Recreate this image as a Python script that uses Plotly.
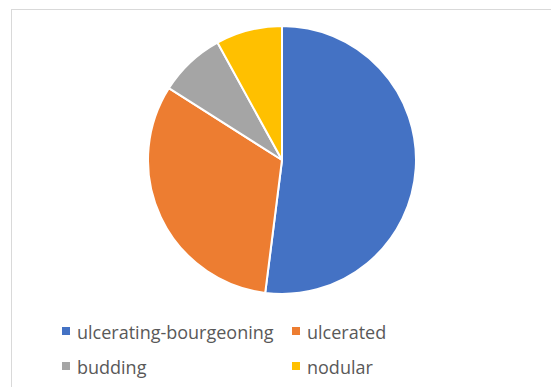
import plotly.graph_objects as go

# Tumour macroscopic aspect, number of cases
labels = ["ulcerating-bourgeoning", "ulcerated", "budding", "nodular"]
cases = [13, 8, 2, 2]
colors = ["#4472C4", "#ED7D31", "#A5A5A5", "#FFC000"]

W, H = 551, 387
cx, cy, r = 282, 160, 134  # pie centre and radius in px

fig = go.Figure(
    go.Pie(
        labels=labels,
        values=cases,
        sort=False,
        direction="clockwise",
        rotation=0,
        textinfo="none",
        hoverinfo="label+value+percent",
        marker=dict(colors=colors, line=dict(color="white", width=2)),
        domain=dict(x=[(cx - r) / W, (cx + r) / W],
                    y=[1 - (cy + r) / H, 1 - (cy - r) / H]),
        showlegend=False,
    )
)

# Legend laid out as a two-column grid below the pie
legend_pos = [(62, 331), (292, 331), (62, 366), (292, 366)]  # square left edge, row centre (px)
sq = 8
shapes = []
annotations = []
for lab, col, (lx, ly) in zip(labels, colors, legend_pos):
    shapes.append(dict(type="rect", xref="paper", yref="paper",
                       x0=lx / W, x1=(lx + sq) / W,
                       y0=1 - (ly + sq / 2) / H, y1=1 - (ly - sq / 2) / H,
                       fillcolor=col, line=dict(width=0)))
    annotations.append(dict(text=lab, xref="paper", yref="paper",
                            x=(lx + 13) / W, y=1 - (ly + 1) / H,
                            xanchor="left", yanchor="middle", showarrow=False,
                            font=dict(family="Open Sans", size=18, color="#595959")))

# Chart-area frame (top and left edges visible)
frame = dict(color="#D9D9D9", width=1)
shapes.append(dict(type="line", xref="paper", yref="paper",
                   x0=11 / W, x1=1.02, y0=1 - 9.5 / H, y1=1 - 9.5 / H, line=frame))
shapes.append(dict(type="line", xref="paper", yref="paper",
                   x0=11.5 / W, x1=11.5 / W, y0=-0.02, y1=1 - 9.5 / H, line=frame))

fig.update_layout(
    width=W, height=H,
    margin=dict(l=0, r=0, t=0, b=0),
    paper_bgcolor="white",
    plot_bgcolor="white",
    shapes=shapes,
    annotations=annotations,
)

fig.write_html("out.html")
